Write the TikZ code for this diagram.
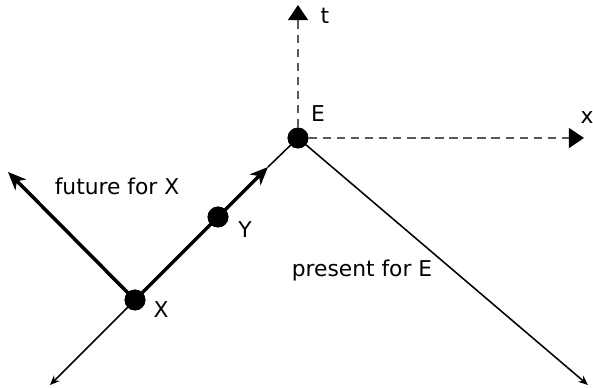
\documentclass[tikz,border=0pt]{standalone}
\usepackage{fontspec}
\setmainfont{DejaVu Sans}
\usetikzlibrary{arrows.meta}

\begin{document}
\begin{tikzpicture}[
    event/.style={circle, fill=black, inner sep=0pt, minimum size=0.52cm},
    axis/.style={dashed, dash pattern=on 6pt off 4pt, gray!70!black, line width=1.5pt, -{Triangle[length=3.8mm, width=5mm, color=black]}},
    worldline/.style={line width=2.5pt, -{Stealth[length=4.5mm, width=3.8mm, inset=1.3mm]}},
    cone/.style={line width=1.1pt, -{Stealth[length=2.4mm, width=2mm]}},
    label/.style={font=\fontsize{15.5}{18}\selectfont}
]
    \useasboundingbox (0,0) rectangle (14.825,9.7);

    % Events
    \node[event] (E) at (7.45,6.25) {};
    \node[event] (X) at (3.375,2.2) {};
    \node[event] (Y) at (5.45,4.275) {};

    % Free ends
    \coordinate (tend)  at (7.45,9.575);
    \coordinate (xend)  at (14.6,6.25);
    \coordinate (fut)   at (0.2,5.4);
    \coordinate (tip)   at (6.7,5.525);
    \coordinate (pastX) at (1.25,0.075);
    \coordinate (presE) at (14.7,0.075);

    % Axes
    \draw[axis] (E) -- (tend);
    \draw[axis] (E) -- (xend);

    % Lines
    \draw[line width=1.1pt] (E.center) -- (tip);
    \draw[worldline] (X.center) -- (tip);
    \draw[worldline] (X.center) -- (fut);
    \draw[cone] (X.center) -- (pastX);
    \draw[cone] (E.center) -- (presE);

    % Dots on top
    \node[event] at (E) {};
    \node[event] at (X) {};
    \node[event] at (Y) {};

    % Labels
    \node[label] (tlab) at (8.125,9.3) {t};
    \node[label] (xlab) at (14.675,6.75) {x};
    \node[label] (Elab) at (7.95,6.85) {E};
    \node[label] (Xlab) at (4.025,1.95) {X};
    \node[label] (Ylab) at (6.125,3.95) {Y};
    \node[label] (futlab) at (2.925,5.05) {future for X};
    \node[label] (preslab) at (9.05,2.95) {present for E};
\end{tikzpicture}
\end{document}
